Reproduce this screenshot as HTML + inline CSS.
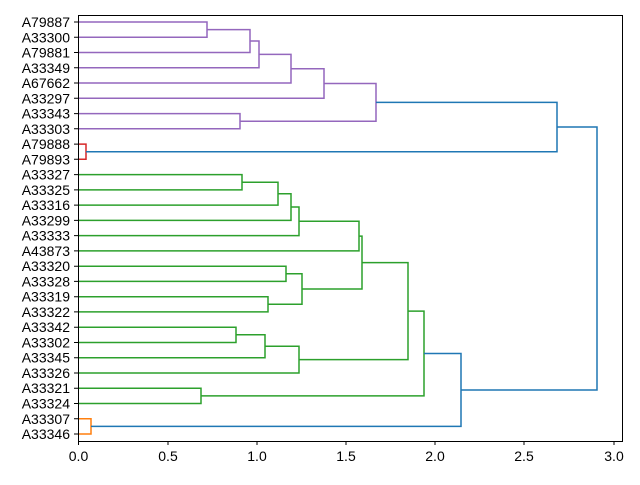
<!DOCTYPE html>
<html><head><meta charset="utf-8"><style>body{margin:0;background:#fff}</style></head><body>
<svg width="640" height="480" xmlns="http://www.w3.org/2000/svg" font-family="Liberation Sans, DejaVu Sans, sans-serif" font-size="14">
<g fill="none" stroke-width="1.5">
<g stroke="#9467bd">
<path d="M78,22H207V37.3H78"/>
<path d="M207,29.6H250V52.5H78"/>
<path d="M250,41H259V67.8H78"/>
<path d="M259,54.4H291V83H78"/>
<path d="M291,68.7H324V98.3H78"/>
<path d="M78,113.6H240V128.8H78"/>
<path d="M324,83.5H376V121.2H240"/>
</g>
<path stroke="#d62728" d="M78,144.1H86V159.3H78"/>
<g stroke="#2ca02c">
<path d="M78,174.6H242V189.9H78"/>
<path d="M242,182.2H278V205.1H78"/>
<path d="M278,193.7H291V220.4H78"/>
<path d="M291,207H299V235.6H78"/>
<path d="M299,221.3H359V250.9H78"/>
<path d="M78,266.2H286V281.4H78"/>
<path d="M78,296.7H268V311.9H78"/>
<path d="M286,273.8H302V304.3H268"/>
<path d="M359,236.1H362V289H302"/>
<path d="M78,327.2H236V342.5H78"/>
<path d="M236,334.8H265V357.7H78"/>
<path d="M265,346.3H299V373H78"/>
<path d="M362,262.6H408V359.6H299"/>
<path d="M78,388.2H201V403.5H78"/>
<path d="M408,311.1H424V395.9H201"/>
</g>
<path stroke="#ff7f0e" d="M78,418.8H91V434H78"/>
<g stroke="#1f77b4">
<path d="M376,102.4H557V151.7H86"/>
<path d="M424,353.5H461V426.4H91"/>
<path d="M557,127H597V390H461"/>
</g>
</g>
<rect x="78.5" y="15.5" width="544" height="426" fill="none" stroke="#000" stroke-width="1"/>
<g stroke="#000">
<path d="M78.5,441V445M168,441V445M257,441V445M346,441V445M435,441V445M524,441V445M614,441V445"/>
<path d="M78,22H74M78,37.3H74M78,52.5H74M78,67.8H74M78,83H74M78,98.3H74M78,113.6H74M78,128.8H74M78,144.1H74M78,159.3H74M78,174.6H74M78,189.9H74M78,205.1H74M78,220.4H74M78,235.6H74M78,250.9H74M78,266.2H74M78,281.4H74M78,296.7H74M78,311.9H74M78,327.2H74M78,342.5H74M78,357.7H74M78,373H74M78,388.2H74M78,403.5H74M78,418.8H74M78,434H74"/>
</g>
<g text-anchor="middle" fill="#000">
<text x="78.5" y="461">0.0</text><text x="168" y="461">0.5</text><text x="257" y="461">1.0</text><text x="346" y="461">1.5</text><text x="435" y="461">2.0</text><text x="524" y="461">2.5</text><text x="614" y="461">3.0</text>
</g>
<g text-anchor="end" fill="#000" dominant-baseline="central">
<text x="70" y="22">A79887</text><text x="70" y="37.3">A33300</text><text x="70" y="52.5">A79881</text><text x="70" y="67.8">A33349</text><text x="70" y="83">A67662</text><text x="70" y="98.3">A33297</text><text x="70" y="113.6">A33343</text><text x="70" y="128.8">A33303</text><text x="70" y="144.1">A79888</text><text x="70" y="159.3">A79893</text><text x="70" y="174.6">A33327</text><text x="70" y="189.9">A33325</text><text x="70" y="205.1">A33316</text><text x="70" y="220.4">A33299</text><text x="70" y="235.6">A33333</text><text x="70" y="250.9">A43873</text><text x="70" y="266.2">A33320</text><text x="70" y="281.4">A33328</text><text x="70" y="296.7">A33319</text><text x="70" y="311.9">A33322</text><text x="70" y="327.2">A33342</text><text x="70" y="342.5">A33302</text><text x="70" y="357.7">A33345</text><text x="70" y="373">A33326</text><text x="70" y="388.2">A33321</text><text x="70" y="403.5">A33324</text><text x="70" y="418.8">A33307</text><text x="70" y="434">A33346</text>
</g>
</svg>
</body></html>
